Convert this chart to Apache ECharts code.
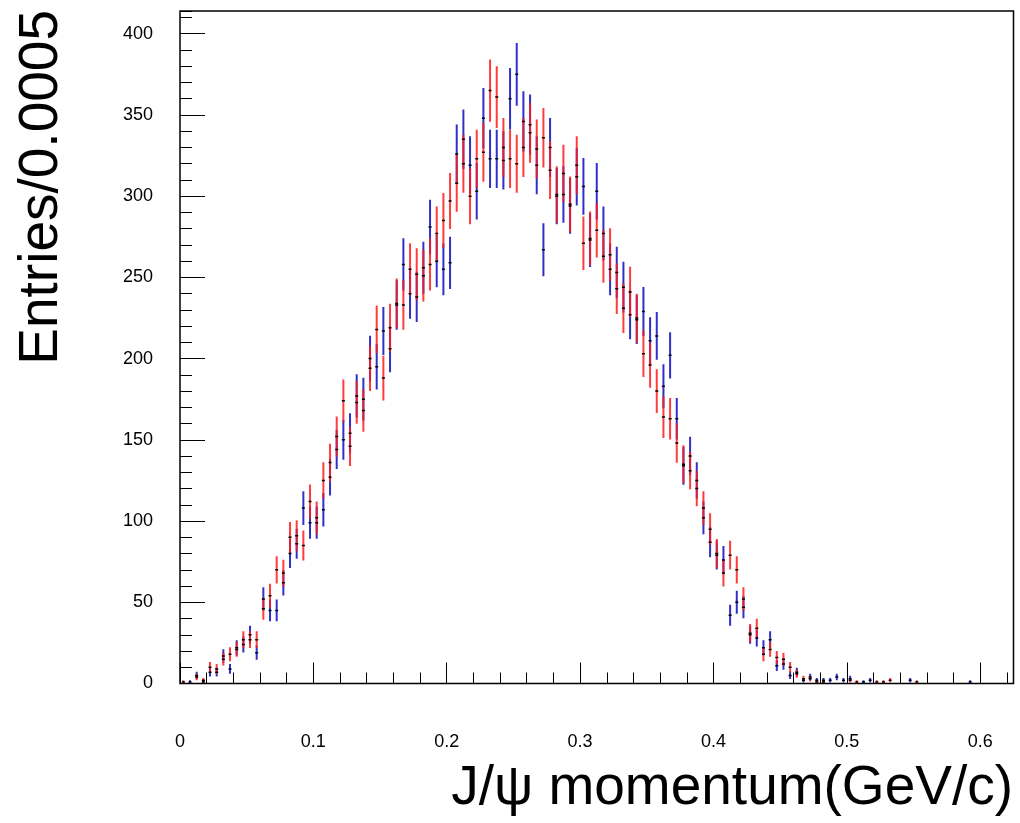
<!DOCTYPE html>
<html><head><meta charset="utf-8">
<script src="https://cdn.jsdelivr.net/npm/echarts@6/dist/echarts.min.js"></script>
<style>html,body{margin:0;padding:0;background:#fff}#chart{width:1020px;height:823px}</style>
</head><body><div id="chart"></div>
<script>
// Histogram binning (x in GeV/c)
const binStart = 0;
const binWidth = 0.005;
const xMin = 0, xMax = 0.625;
const yMin = 0, yMax = 414;

// Bin contents (125 bins each)
const blueCounts = [
  0,1,5,1,7,7,17,9,22,24,
  30,19,52,45,45,62,80,86,108,99,
  99,107,127,144,150,154,177,175,200,195,
  217,206,233,258,240,238,256,281,260,255,
  259,326,335,319,303,348,323,323,322,360,
  375,346,344,319,267,330,300,301,294,312,
  306,273,303,277,255,253,244,227,224,229,
  211,214,183,202,163,134,140,125,102,87,
  79,76,42,50,47,30,28,22,27,11,
  12,5,7,2,4,2,2,2,4,2,
  3,0,1,2,0,0,0,0,0,2,
  0,0,0,0,0,0,0,0,1,0,
  0,0,0,0,0
];
const redCounts = [
  1,0,4,2,10,9,15,18,21,27,
  27,27,46,54,70,68,90,91,85,112,
  102,125,136,152,174,146,173,168,194,218,
  188,219,234,233,255,252,251,258,277,285,
  297,308,320,300,323,327,365,361,330,323,
  320,330,339,329,336,316,301,314,295,319,
  271,274,279,263,264,243,231,241,225,203,
  196,180,164,163,148,135,131,120,108,95,
  80,68,79,70,52,31,34,18,21,16,
  15,10,6,3,3,1,1,0,0,0,
  2,1,0,0,1,1,2,0,0,0,
  1,0,0,0,0,0,0,0,0,0,
  0,0,0,0,0
];

const xTitle = 'J/\u03c8 momentum(GeV/c)';
const yTitle = 'Entries/0.0005';

function toData(counts) {
  return counts.map((v, i) => [binStart + binWidth * (i + 0.5), v, Math.sqrt(v)]);
}
const blueData = toData(blueCounts);
const redData = toData(redCounts);
const markerData = blueData.concat(redData);

function barRenderer(color, opacity) {
  return function (params, api) {
    const x = api.value(0), v = api.value(1), e = api.value(2);
    if (!(v > 0)) return null;
    const top = api.coord([x, v + e]);
    const bot = api.coord([x, v - e]);
    return {
      type: 'line',
      shape: { x1: top[0], y1: top[1], x2: bot[0], y2: bot[1] },
      style: { stroke: color, lineWidth: 2, opacity: opacity }
    };
  };
}
function markerRenderer(params, api) {
  const x = api.value(0), v = api.value(1);
  if (!(v > 0)) return null;
  const c = api.coord([x, v]);
  return {
    type: 'rect',
    shape: { x: c[0] - 1.5, y: c[1] - 0.75, width: 3, height: 1.5 },
    style: { fill: '#000' }
  };
}

const FONT = '"Liberation Sans", Arial, Helvetica, sans-serif';
const chart = echarts.init(document.getElementById('chart'), null, { renderer: 'canvas' });
chart.setOption({
  animation: false,
  backgroundColor: '#fff',
  grid: {
    left: 180, top: 11, width: 833.5, height: 672.5,
    show: true, borderColor: '#000', borderWidth: 1.5, backgroundColor: 'transparent'
  },
  xAxis: [
    {
      type: 'value', min: xMin, max: xMax, interval: 0.1, position: 'bottom',
      axisLine: { show: false },
      axisTick: { show: true, inside: true, length: 21, lineStyle: { color: '#000', width: 1 } },
      axisLabel: { show: true, margin: 50, color: '#000', fontSize: 18, fontFamily: FONT,
                   showMaxLabel: false, formatter: v => String(+v.toFixed(2)) },
      splitLine: { show: false }
    },
    {
      type: 'value', min: xMin, max: xMax, interval: 0.02, position: 'bottom',
      axisLine: { show: false },
      axisTick: { show: true, inside: true, length: 11, lineStyle: { color: '#000', width: 1 } },
      axisLabel: { show: false },
      splitLine: { show: false }
    }
  ],
  yAxis: [
    {
      type: 'value', min: yMin, max: yMax, interval: 50, position: 'left',
      axisLine: { show: false },
      axisTick: { show: true, inside: true, length: 25, lineStyle: { color: '#000', width: 1 } },
      axisLabel: { show: true, margin: 27, color: '#000', fontSize: 18, fontFamily: FONT, showMaxLabel: false },
      splitLine: { show: false }
    },
    {
      type: 'value', min: yMin, max: yMax, interval: 10, position: 'left',
      axisLine: { show: false },
      axisTick: { show: true, inside: true, length: 12, lineStyle: { color: '#000', width: 1 } },
      axisLabel: { show: false },
      splitLine: { show: false }
    }
  ],
  series: [
    { type: 'custom', name: 'blue', xAxisIndex: 0, yAxisIndex: 0, z: 2, clip: true,
      encode: { x: 0, y: 1 }, data: blueData, renderItem: barRenderer('#3030c8', 1) },
    { type: 'custom', name: 'red', xAxisIndex: 0, yAxisIndex: 0, z: 3, clip: true,
      encode: { x: 0, y: 1 }, data: redData, renderItem: barRenderer('#ff1a1a', 0.85) },
    { type: 'custom', name: 'markers', xAxisIndex: 0, yAxisIndex: 0, z: 4, clip: true,
      encode: { x: 0, y: 1 }, data: markerData, renderItem: markerRenderer }
  ],
  graphic: [
    { type: 'text', x: 1013, y: 789, style: { text: xTitle, font: '55px ' + FONT, fill: '#000',
      textAlign: 'right', textVerticalAlign: 'middle' } },
    { type: 'text', x: 42, y: 10, rotation: Math.PI / 2, style: { text: yTitle, font: '55px ' + FONT, fill: '#000',
      textAlign: 'right', textVerticalAlign: 'middle' } }
  ]
});
</script>
</body></html>
